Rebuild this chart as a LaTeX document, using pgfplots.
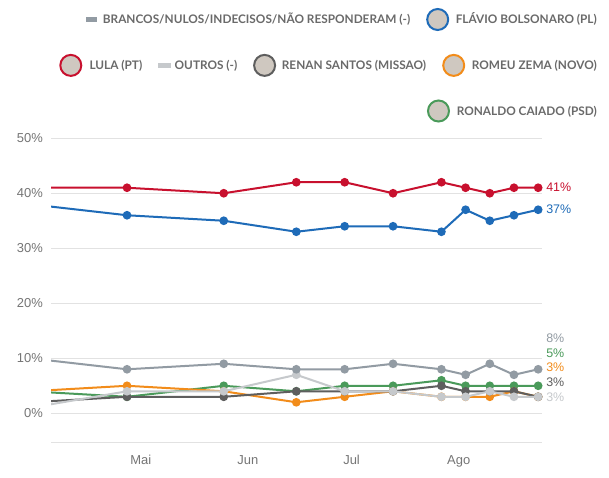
\documentclass[border=0pt]{standalone}
\usepackage{fontspec}
\setmainfont{Liberation Sans}
\newfontfamily\lato{Lato}
\usepackage{pgfplots}
\pgfplotsset{compat=1.18}
\definecolor{cred}{HTML}{C8102E}
\definecolor{cblue}{HTML}{1E6BB8}
\definecolor{cgray}{HTML}{929BA3}
\definecolor{clight}{HTML}{C6C9CC}
\definecolor{cdark}{HTML}{5E5E5E}
\definecolor{corange}{HTML}{F28C1A}
\definecolor{cgreen}{HTML}{4A9A5A}
\definecolor{gridc}{HTML}{E2E2E2}
\definecolor{tickc}{HTML}{757575}
\definecolor{legc}{HTML}{6A6A6A}
\definecolor{photo}{HTML}{CFC8C0}
\begin{document}
\begin{tikzpicture}[x=1bp,y=1bp]
\path[use as bounding box, fill=white] (0,0) rectangle (609,478);
% legend
\tikzset{lt/.style={inner sep=0, font=\lato\bfseries\fontsize{11.85}{11.85}\selectfont, text=legc},
         ph/.style={line width=2bp, fill=photo}}
\fill[cgray] (85.5,456) rectangle (97,461);
\node[lt, anchor=base west] at (102.7,454.2) {BRANCOS/NULOS/INDECISOS/NÃO RESPONDERAM (-)};
\draw[ph, draw=cblue] (437.7,458.5) circle (10.5);
\node[lt, anchor=base east] at (597,454.2) {FLÁVIO BOLSONARO (PL)};
\draw[ph, draw=cred] (70.8,412.6) circle (10.5);
\node[lt, anchor=base west] at (89.3,408.3) {LULA (PT)};
\fill[clight] (157.6,410.1) rectangle (170.6,415.1);
\node[lt, anchor=base west] at (174.5,408.3) {OUTROS (-)};
\draw[ph, draw=cdark] (264.6,412.6) circle (10.5);
\node[lt, anchor=base west] at (281.7,408.3) {RENAN SANTOS (MISSAO)};
\draw[ph, draw=corange] (453.7,412.6) circle (10.5);
\node[lt, anchor=base east] at (597,408.3) {ROMEU ZEMA (NOVO)};
\draw[ph, draw=cgreen] (438.5,367) circle (10.5);
\node[lt, anchor=base east] at (597,362.7) {RONALDO CAIADO (PSD)};
\begin{axis}[
  at={(51bp,35.55bp)}, anchor=south west, scale only axis,
  width=490.6bp, height=304.2bp,
  xmin=95, xmax=237, ymin=-5.3, ymax=50,
  axis line style={draw=none},
  major tick length=0pt,
  ytick={0,10,20,30,40,50},
  yticklabels={0\%,10\%,20\%,30\%,40\%,50\%},
  xtick={121,152,182,213},
  xticklabels={Mai,Jun,Jul,Ago},
  ymajorgrids, grid style={draw=gridc, line width=1bp},
  tick label style={font=\fontsize{13}{13}\selectfont, text=tickc},
  yticklabel style={anchor=east, inner sep=0pt, xshift=-8bp},
  xticklabel style={anchor=north, inner sep=0pt, yshift=-12.7bp},
  clip mode=individual,
  every axis plot/.append style={line width=2bp, mark=*, mark size=3.3bp, mark options={solid}},
]
\draw[gridc, line width=1bp] (rel axis cs:0,0) -- (rel axis cs:1,0);
% Ronaldo Caiado
\addplot[cgreen, mark options={fill=cgreen}] coordinates {(89,4)(117,3)(145,5)(166,4)(180,5)(194,5)(208,6)(215,5)(222,5)(229,5)(236,5)};
% Romeu Zema
\addplot[corange, mark options={fill=corange}] coordinates {(89,4)(117,5)(145,4)(166,2)(180,3)(194,4)(208,3)(215,3)(222,3)(229,4)(236,3)};
% Renan Santos
\addplot[cdark, mark options={fill=cdark}] coordinates {(89,2)(117,3)(145,3)(166,4)(180,4)(194,4)(208,5)(215,4)(222,4)(229,4)(236,3)};
% Outros
\addplot[clight, mark options={fill=clight}] coordinates {(89,1)(117,4)(145,4)(166,7)(180,4)(194,4)(208,3)(215,3)(222,4)(229,3)(236,3)};
% Brancos/Nulos
\addplot[cgray, mark options={fill=cgray}] coordinates {(89,10)(117,8)(145,9)(166,8)(180,8)(194,9)(208,8)(215,7)(222,9)(229,7)(236,8)};
% Flavio Bolsonaro
\addplot[cblue, mark options={fill=cblue}] coordinates {(89,38)(117,36)(145,35)(166,33)(180,34)(194,34)(208,33)(215,37)(222,35)(229,36)(236,37)};
% Lula
\addplot[cred, mark options={fill=cred}] coordinates {(89,41)(117,41)(145,40)(166,42)(180,42)(194,40)(208,42)(215,41)(222,40)(229,41)(236,41)};
\tikzset{el/.style={anchor=west, inner sep=0pt, font=\fontsize{12.5}{12.5}\selectfont}}
\node[el, text=cred] at (axis cs:238.3,41.1) {41\%};
\node[el, text=cblue] at (axis cs:238.3,37.1) {37\%};
\node[el, text=cgray] at (axis cs:238.3,13.7) {8\%};
\node[el, text=cgreen] at (axis cs:238.3,11.0) {5\%};
\node[el, text=corange] at (axis cs:238.3,8.35) {3\%};
\node[el, text=cdark] at (axis cs:238.3,5.6) {3\%};
\node[el, text=clight] at (axis cs:238.3,2.9) {3\%};
\end{axis}
\end{tikzpicture}
\end{document}
